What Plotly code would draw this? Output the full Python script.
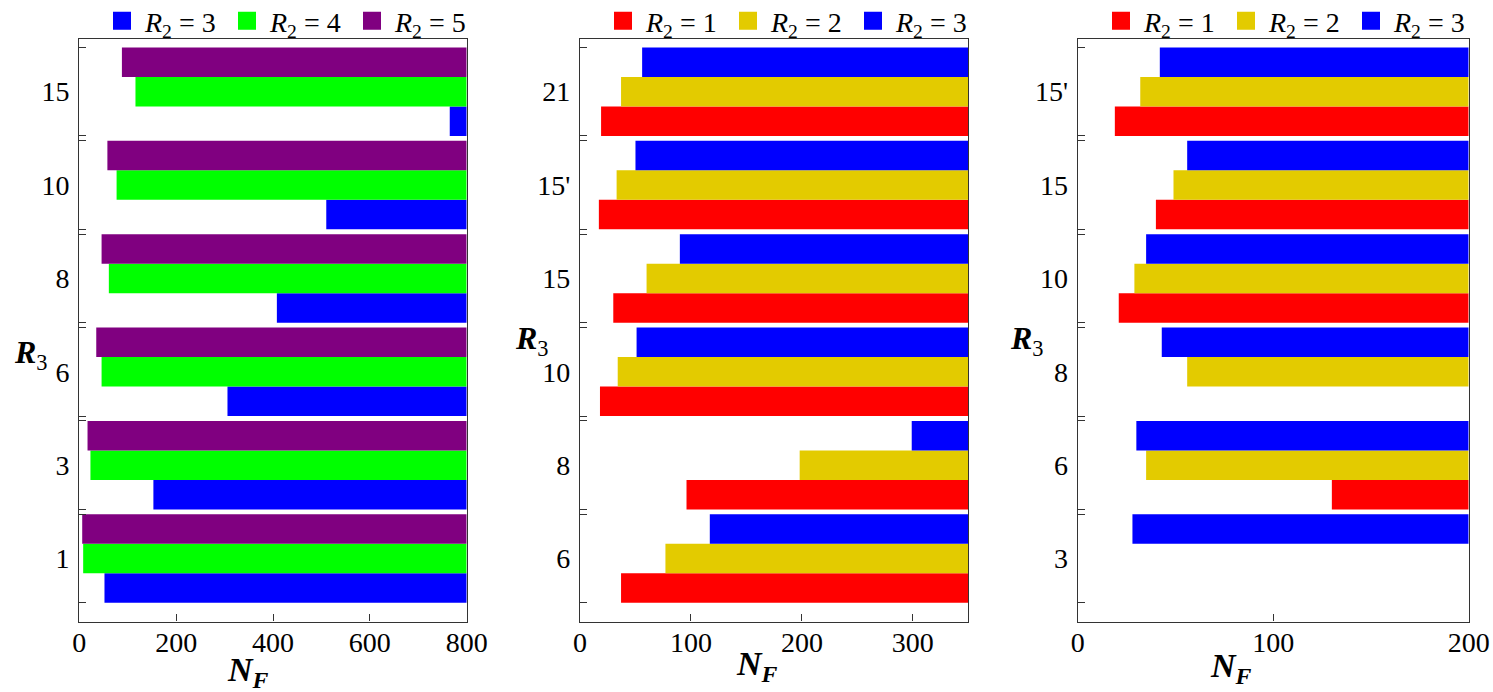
import plotly.graph_objects as go

# ---------------- data ----------------
# Panel 1 (x range 0..800)
p1_categories = ["1", "3", "6", "8", "10", "15"]
p1_xmax = 800
p1_r2_3 = [52, 153, 306, 408, 510, 765]
p1_r2_4 = [8, 23, 46, 61, 77, 116]
p1_r2_5 = [6, 17, 35, 46, 58, 88]
p1_xticks = [0, 200, 400, 600, 800]

# Panel 2 (x range 0..350)
p2_categories = ["6", "8", "10", "15", "15'", "21"]
p2_xmax = 350
p2_r2_1 = [37, 96, 18, 30, 17, 19]
p2_r2_2 = [77, 198, 34, 60, 33, 37]
p2_r2_3 = [117, 299, 51, 90, 50, 56]
p2_xticks = [0, 100, 200, 300]

# Panel 3 (x range 0..200)
p3_categories = ["3", "6", "8", "10", "15", "15'"]
p3_xmax = 200
p3_r2_1 = [200, 130, 200, 21, 40, 19]
p3_r2_2 = [200, 35, 56, 29, 49, 32]
p3_r2_3 = [28, 30, 43, 35, 56, 42]
p3_xticks = [0, 100, 200]

COL_BLUE = "#0000FF"
COL_GREEN = "#00FF00"
COL_PURPLE = "#800080"
COL_RED = "#FF0000"
COL_YELLOW = "#E3CB00"

FONT = "Liberation Serif, Times New Roman, serif"
BARGAP = 0.052

W, H = 1493, 692


def fx(px):
    return px / W


def fy(py):
    return 1 - py / H


fig = go.Figure()

panels = [
    dict(cats=p1_categories, xmax=p1_xmax, xticks=p1_xticks,
         series=[("3", p1_r2_3, COL_BLUE), ("4", p1_r2_4, COL_GREEN), ("5", p1_r2_5, COL_PURPLE)],
         xdom=(79.3, 466.7)),
    dict(cats=p2_categories, xmax=p2_xmax, xticks=p2_xticks,
         series=[("1", p2_r2_1, COL_RED), ("2", p2_r2_2, COL_YELLOW), ("3", p2_r2_3, COL_BLUE)],
         xdom=(580.0, 968.3)),
    dict(cats=p3_categories, xmax=p3_xmax, xticks=p3_xticks,
         series=[("1", p3_r2_1, COL_RED), ("2", p3_r2_2, COL_YELLOW), ("3", p3_r2_3, COL_BLUE)],
         xdom=(1077.7, 1468.7)),
]

ydom = (fy(621.5), fy(39))
legend_left = [99, 600, 1098]
ntitle_pos = [(248, 672), (757, 666), (1231, 668)]
rtitle_pos = [(31, 354), (532, 340), (1027, 340)]

annotations = []
for k, p in enumerate(panels):
    sfx = "" if k == 0 else str(k + 1)
    xa, ya = "x" + sfx, "y" + sfx
    leg = "legend" + sfx
    pos = list(range(len(p["cats"])))
    for name, vals, col in p["series"]:
        fig.add_trace(go.Bar(
            y=pos, x=[p["xmax"] - v for v in vals], base=vals,
            orientation="h", marker=dict(color=col, line=dict(width=0)),
            name=f"<i>R</i><sub>2</sub> = {name}",
            xaxis=xa, yaxis=ya, showlegend=False, legendgroup=leg,
        ))
        fig.add_trace(go.Scatter(
            x=[None], y=[None], mode="markers",
            marker=dict(symbol="square", size=16, color=col,
                        line=dict(width=2, color=col)),
            name=f"<i>R</i><sub>2</sub> = {name}",
            xaxis=xa, yaxis=ya, legend=leg, showlegend=True,
        ))
    half = (1 - BARGAP) / 2
    minor_vals = []
    for i in pos:
        minor_vals += [i - half, i + half]
    axis_common = dict(showline=True, mirror=True, linecolor="#333", linewidth=1.2,
                       showgrid=False, zeroline=False, automargin=False,
                       tickfont=dict(family=FONT, size=28, color="black"))
    fig.update_layout(**{
        ("xaxis" + sfx): dict(domain=[fx(p["xdom"][0]), fx(p["xdom"][1])],
                              range=[0, p["xmax"]], anchor=ya,
                              tickvals=p["xticks"], ticks="inside", ticklen=7,
                              tickcolor="#333", ticklabelstandoff=-4, **axis_common),
        ("yaxis" + sfx): dict(domain=list(ydom), anchor=xa,
                              range=[-0.674, len(pos) - 0.436],
                              tickvals=pos, ticktext=p["cats"], ticks="",
                              ticklabelstandoff=3,
                              minor=dict(tickvals=minor_vals, ticks="inside", ticklen=7,
                                         tickcolor="#333", showgrid=False),
                              **axis_common),
        leg: dict(orientation="h", x=fx(legend_left[k]), xanchor="left",
                  y=fy(21), yanchor="middle", bgcolor="rgba(0,0,0,0)",
                  font=dict(family=FONT, size=28, color="black"),
                  traceorder="normal", itemwidth=36,
                  entrywidth=74, entrywidthmode="pixels"),
    })
    nx, ny = ntitle_pos[k]
    annotations.append(dict(
        text="<b><i>N</i></b><sub><b><i>F</i></b></sub>", xref="paper", yref="paper",
        x=fx(nx), y=fy(ny), xanchor="center", yanchor="middle", showarrow=False,
        font=dict(family=FONT, size=34, color="black")))
    rx, ry = rtitle_pos[k]
    annotations.append(dict(
        text="<b><i>R</i></b><sub>3</sub>", xref="paper", yref="paper",
        x=fx(rx), y=fy(ry), xanchor="center", yanchor="middle", showarrow=False,
        font=dict(family=FONT, size=32, color="black")))

fig.update_layout(
    width=W, height=H, margin=dict(l=0, r=0, t=0, b=0, autoexpand=False),
    paper_bgcolor="white", plot_bgcolor="white",
    barmode="group", bargap=BARGAP, bargroupgap=0,
    annotations=annotations,
)

fig.write_html("out.html", config={"displayModeBar": False},
               post_script="document.body.style.margin='0';document.body.style.overflow='hidden';")
